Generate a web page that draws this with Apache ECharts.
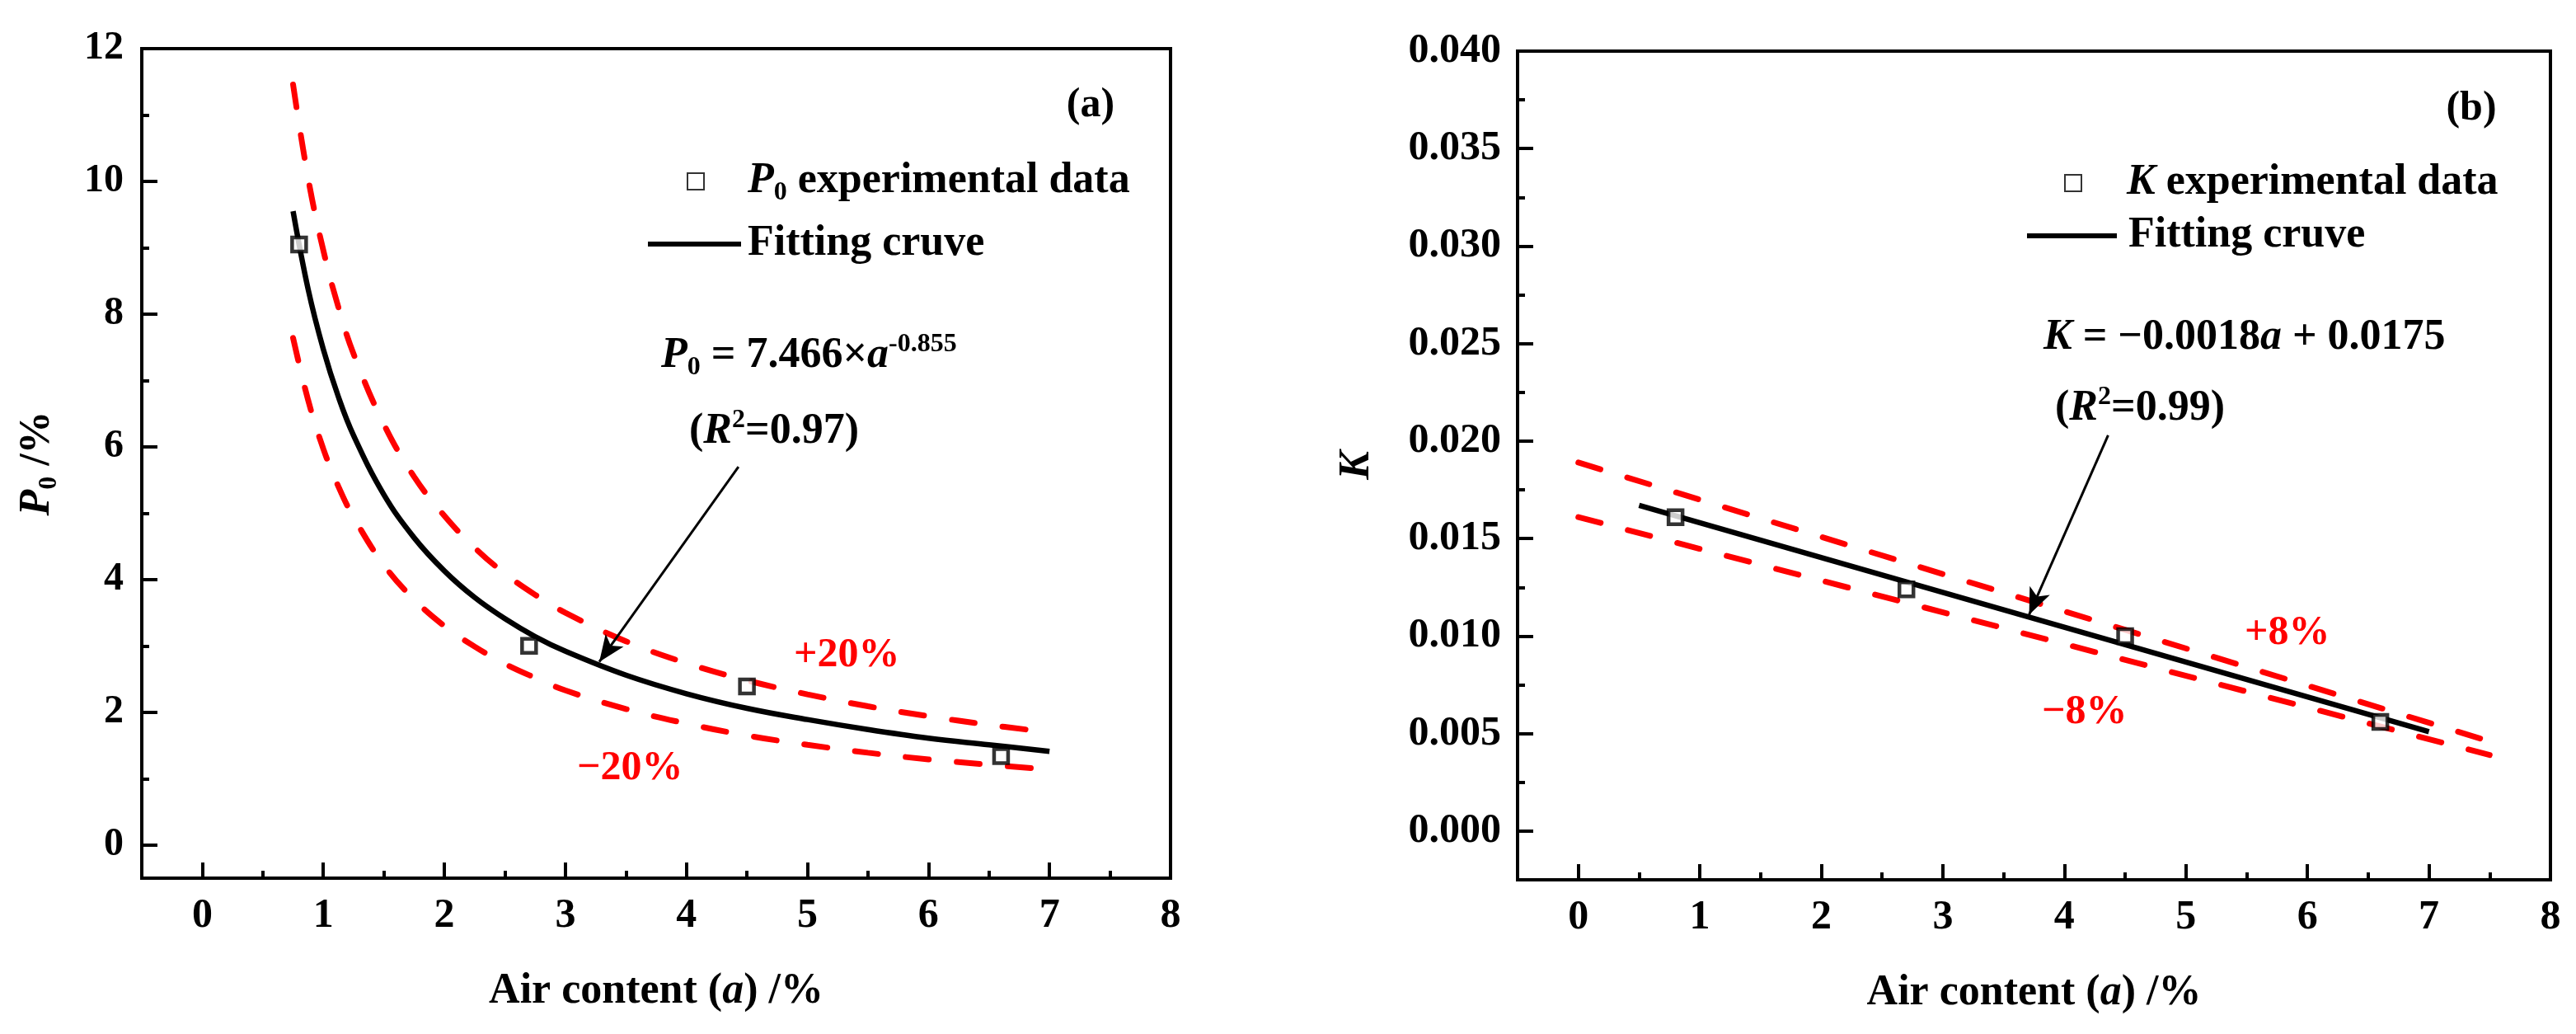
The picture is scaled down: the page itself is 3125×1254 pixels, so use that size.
<!DOCTYPE html>
<html>
<head>
<meta charset="utf-8">
<script src="https://cdn.jsdelivr.net/npm/echarts@6/dist/echarts.min.js"></script>
<style>
html,body{margin:0;padding:0;background:#fff;}
#chart{width:3125px;height:1254px;}
</style>
</head>
<body>
<div id="chart"></div>
<script>
// ---------- data ----------
const airContent = [0.8, 2.7, 4.5, 6.6];
const p0Measured = [9.05, 3.0, 2.39, 1.34];
const kMeasured = [0.0161, 0.0124, 0.0100, 0.0056];

const p0FitX = [0.75, 0.875, 1, 1.125, 1.25, 1.5, 1.75, 2, 2.25, 2.5, 2.75, 3, 3.5, 4, 4.5, 5, 5.5, 6, 6.5, 7];
const p0Fit  = [9.55, 8.37, 7.47, 6.75, 6.17, 5.28, 4.63, 4.13, 3.73, 3.41, 3.14, 2.92, 2.56, 2.28, 2.06, 1.89, 1.74, 1.61, 1.51, 1.41];
const p0BandX = [0.75, 0.875, 1, 1.125, 1.25, 1.5, 1.75, 2, 2.25, 2.5, 2.75, 3, 3.5, 4, 4.5, 5, 5.5, 6, 6.5, 6.9];
const p0Upper = [11.46, 10.04, 8.96, 8.10, 7.40, 6.34, 5.55, 4.96, 4.48, 4.09, 3.77, 3.50, 3.07, 2.74, 2.48, 2.27, 2.09, 1.94, 1.81, 1.72];
const p0Lower = [7.64, 6.70, 5.97, 5.40, 4.94, 4.22, 3.70, 3.30, 2.99, 2.73, 2.52, 2.33, 2.05, 1.83, 1.65, 1.51, 1.39, 1.29, 1.21, 1.15];

const kFitX = [0.5, 7.0];
const kFit  = [0.0167, 0.0051];
const kBandX = [0, 7.5];
const kUpper = [0.0189, 0.0046];
const kLower = [0.0161, 0.0039];

// arrow annotations (data units): [start, tip]
const arrowA = [[4.43, 5.70], [3.28, 2.76]];
const arrowB = [[4.36, 0.0203], [3.71, 0.0111]];

// ---------- tick labels ----------
const xTicks = [0, 1, 2, 3, 4, 5, 6, 7, 8];
const xMinorTicks = [0.5, 1.5, 2.5, 3.5, 4.5, 5.5, 6.5, 7.5];
const yTicksA = [0, 2, 4, 6, 8, 10, 12];
const yMinorA = [1, 3, 5, 7, 9, 11];
const yTicksB = [0, 0.005, 0.01, 0.015, 0.02, 0.025, 0.03, 0.035, 0.04];
const yMinorB = [0.0025, 0.0075, 0.0125, 0.0175, 0.0225, 0.0275, 0.0325, 0.0375];

// ---------- helpers ----------
const zip = (xs, ys) => xs.map((x, i) => [x, ys[i]]);
const FF = '"Liberation Serif", serif';
const RED = '#ff0000';
const DASH = [28, 34];

function richSet(size, color) {
  return {
    t:   {fontFamily: FF, fontWeight: 'bold', fontSize: size, color: color, fill: color, lineHeight: 60},
    i:   {fontFamily: FF, fontWeight: 'bold', fontStyle: 'italic', fontSize: size, color: color, fill: color, lineHeight: 60},
    sub: {fontFamily: FF, fontWeight: 'bold', fontSize: Math.round(size * 0.62), color: color, fill: color, lineHeight: 30, verticalAlign: 'bottom'},
    sup: {fontFamily: FF, fontWeight: 'bold', fontSize: Math.round(size * 0.62), color: color, fill: color, lineHeight: 30, verticalAlign: 'top'}
  };
}

const axisLineStyle = {show: true, onZero: false, lineStyle: {color: '#000', width: 4}};
const tickStyle = {color: '#000', width: 4};

function majorX(grid) {
  return {
    type: 'value', gridIndex: grid, min: -0.5, max: 8, position: 'bottom',
    axisLine: axisLineStyle,
    axisTick: {show: true, inside: true, length: 19, lineStyle: tickStyle, customValues: xTicks},
    axisLabel: {show: true, customValues: xTicks, margin: 21, color: '#000', fontFamily: FF, fontWeight: 'bold', fontSize: 50},
    splitLine: {show: false},
    name: '{t|Air content (}{i|a}{t|) /%}',
    nameLocation: 'middle', nameGap: 108,
    nameTextStyle: {rich: richSet(52, '#000')}
  };
}
function minorX(grid) {
  return {
    type: 'value', gridIndex: grid, min: -0.5, max: 8, position: 'bottom',
    axisLine: {show: false, onZero: false},
    axisTick: {show: true, inside: true, length: 9, lineStyle: tickStyle, customValues: xMinorTicks},
    axisLabel: {show: false},
    splitLine: {show: false}
  };
}

const option = {
  animation: false,
  backgroundColor: '#fff',
  grid: [
    {left: 172, top: 59, width: 1248, height: 1006, show: true, borderColor: '#000', borderWidth: 4, backgroundColor: 'rgba(0,0,0,0)'},
    {left: 1841, top: 62, width: 1253, height: 1005, show: true, borderColor: '#000', borderWidth: 4, backgroundColor: 'rgba(0,0,0,0)'}
  ],
  xAxis: [majorX(0), minorX(0), majorX(1), minorX(1)],
  yAxis: [
    {
      type: 'value', gridIndex: 0, min: -0.5, max: 12, position: 'left',
      axisLine: axisLineStyle,
      axisTick: {show: true, inside: true, length: 19, lineStyle: tickStyle, customValues: yTicksA},
      axisLabel: {show: true, customValues: yTicksA, margin: 22, color: '#000', fontFamily: FF, fontWeight: 'bold', fontSize: 48},
      splitLine: {show: false},
      name: '{i|P}{sub|0}{t| /%}', nameLocation: 'middle', nameGap: 96,
      nameTextStyle: {rich: richSet(52, '#000')}
    },
    {
      type: 'value', gridIndex: 0, min: -0.5, max: 12, position: 'left',
      axisLine: {show: false, onZero: false},
      axisTick: {show: true, inside: true, length: 9, lineStyle: tickStyle, customValues: yMinorA},
      axisLabel: {show: false}, splitLine: {show: false}
    },
    {
      type: 'value', gridIndex: 1, min: -0.0025, max: 0.04, position: 'left',
      axisLine: axisLineStyle,
      axisTick: {show: true, inside: true, length: 19, lineStyle: tickStyle, customValues: yTicksB},
      axisLabel: {show: true, customValues: yTicksB, margin: 20, color: '#000', fontFamily: FF, fontWeight: 'bold', fontSize: 50,
                  formatter: v => v.toFixed(3)},
      splitLine: {show: false},
      name: '{i|K}', nameLocation: 'middle', nameGap: 164,
      nameTextStyle: {rich: richSet(52, '#000')}
    },
    {
      type: 'value', gridIndex: 1, min: -0.0025, max: 0.04, position: 'left',
      axisLine: {show: false, onZero: false},
      axisTick: {show: true, inside: true, length: 9, lineStyle: tickStyle, customValues: yMinorB},
      axisLabel: {show: false}, splitLine: {show: false}
    }
  ],
  legend: [
    {
      data: ['P0 experimental data'], selectedMode: false, orient: 'vertical',
      left: 833, top: 194, padding: 0, itemWidth: 20, itemHeight: 20,
      formatter: () => '{i|P}{sub|0}{t| experimental data}',
      textStyle: {padding: [0, 0, 0, 48], rich: richSet(52, '#000')}
    },
    {
      data: [{name: 'Fitting cruve', icon: 'rect', itemStyle: {color: '#000', borderWidth: 0}}], selectedMode: false, orient: 'vertical',
      left: 786, top: 270, padding: 0, itemWidth: 113, itemHeight: 6,
      formatter: () => '{t|Fitting cruve}',
      textStyle: {padding: [0, 0, 0, 3], rich: richSet(52, '#000')}
    },
    {
      data: ['K experimental data'], selectedMode: false, orient: 'vertical',
      left: 2504, top: 196, padding: 0, itemWidth: 20, itemHeight: 20,
      formatter: () => '{i|K}{t| experimental data}',
      textStyle: {padding: [0, 0, 0, 50], rich: richSet(52, '#000')}
    },
    {
      data: [{name: 'Fitting cruve', icon: 'rect', itemStyle: {color: '#000', borderWidth: 0}}], selectedMode: false, orient: 'vertical',
      left: 2459, top: 260, padding: 0, itemWidth: 109, itemHeight: 6,
      formatter: () => '{t|Fitting cruve}',
      textStyle: {padding: [0, 0, 0, 9], rich: richSet(52, '#000')}
    }
  ],
  series: [
    // ----- panel (a) -----
    {
      name: '+20%', type: 'line', xAxisIndex: 0, yAxisIndex: 0, data: zip(p0BandX, p0Upper),
      smooth: 0.4, symbol: 'none', lineStyle: {color: RED, width: 7, type: DASH, cap: 'round'}, z: 2
    },
    {
      name: '-20%', type: 'line', xAxisIndex: 0, yAxisIndex: 0, data: zip(p0BandX, p0Lower),
      smooth: 0.4, symbol: 'none', lineStyle: {color: RED, width: 7, type: DASH, cap: 'round'}, z: 2
    },
    {
      name: 'Fitting cruve', type: 'line', xAxisIndex: 0, yAxisIndex: 0, data: zip(p0FitX, p0Fit),
      smooth: 0.4, symbol: 'none', lineStyle: {color: '#000', width: 6.5}, itemStyle: {color: '#000'}, z: 3,
      markLine: {
        silent: true, symbol: ['none', 'arrow'], symbolSize: [20, 32], animation: false,
        lineStyle: {color: '#000', width: 3, type: 'solid'}, label: {show: false},
        data: [[{coord: arrowA[0]}, {coord: arrowA[1]}]]
      }
    },
    {
      name: 'P0 experimental data', type: 'scatter', xAxisIndex: 0, yAxisIndex: 0, data: zip(airContent, p0Measured),
      symbol: 'rect', symbolSize: 17, itemStyle: {color: '#fff', borderColor: '#000', borderWidth: 4.5}, z: 5
    },
    // ----- panel (b) -----
    {
      name: '+8%', type: 'line', xAxisIndex: 2, yAxisIndex: 2, data: zip(kBandX, kUpper),
      symbol: 'none', lineStyle: {color: RED, width: 7, type: DASH, cap: 'round'}, z: 2
    },
    {
      name: '-8%', type: 'line', xAxisIndex: 2, yAxisIndex: 2, data: zip(kBandX, kLower),
      symbol: 'none', lineStyle: {color: RED, width: 7, type: DASH, cap: 'round'}, z: 2
    },
    {
      name: 'Fitting cruve', type: 'line', xAxisIndex: 2, yAxisIndex: 2, data: zip(kFitX, kFit),
      symbol: 'none', lineStyle: {color: '#000', width: 6.5}, itemStyle: {color: '#000'}, z: 3,
      markLine: {
        silent: true, symbol: ['none', 'arrow'], symbolSize: [20, 32], animation: false,
        lineStyle: {color: '#000', width: 3, type: 'solid'}, label: {show: false},
        data: [[{coord: arrowB[0]}, {coord: arrowB[1]}]]
      }
    },
    {
      name: 'K experimental data', type: 'scatter', xAxisIndex: 2, yAxisIndex: 2, data: zip(airContent, kMeasured),
      symbol: 'rect', symbolSize: 17, itemStyle: {color: '#fff', borderColor: '#000', borderWidth: 4.5}, z: 5
    }
  ],
  graphic: [
    {type: 'text', x: 1323, y: 128, style: {text: '(a)', font: 'bold 50px ' + FF, fill: '#000', align: 'center', verticalAlign: 'middle'}},
    {type: 'text', x: 2998, y: 132, style: {text: '(b)', font: 'bold 50px ' + FF, fill: '#000', align: 'center', verticalAlign: 'middle'}},
    {type: 'text', x: 802, y: 432, style: {text: '{i|P}{sub|0}{t| = 7.466×}{i|a}{sup|-0.855}', rich: richSet(52, '#000'), align: 'left', verticalAlign: 'middle'}},
    {type: 'text', x: 836, y: 524, style: {text: '{t|(}{i|R}{sup|2}{t|=0.97)}', rich: richSet(52, '#000'), align: 'left', verticalAlign: 'middle'}},
    {type: 'text', x: 2479, y: 410, style: {text: '{i|K}{t| = −0.0018}{i|a}{t| + 0.0175}', rich: richSet(52, '#000'), align: 'left', verticalAlign: 'middle'}},
    {type: 'text', x: 2493, y: 496, style: {text: '{t|(}{i|R}{sup|2}{t|=0.99)}', rich: richSet(52, '#000'), align: 'left', verticalAlign: 'middle'}},
    {type: 'text', x: 963, y: 795, style: {text: '+20%', font: 'bold 50px ' + FF, fill: RED, align: 'left', verticalAlign: 'middle'}},
    {type: 'text', x: 700, y: 932, style: {text: '−20%', font: 'bold 50px ' + FF, fill: RED, align: 'left', verticalAlign: 'middle'}},
    {type: 'text', x: 2723, y: 768, style: {text: '+8%', font: 'bold 50px ' + FF, fill: RED, align: 'left', verticalAlign: 'middle'}},
    {type: 'text', x: 2477, y: 864, style: {text: '−8%', font: 'bold 50px ' + FF, fill: RED, align: 'left', verticalAlign: 'middle'}}
  ]
};

const chart = echarts.init(document.getElementById('chart'), null, {renderer: 'canvas'});
chart.setOption(option);
</script>
</body>
</html>
